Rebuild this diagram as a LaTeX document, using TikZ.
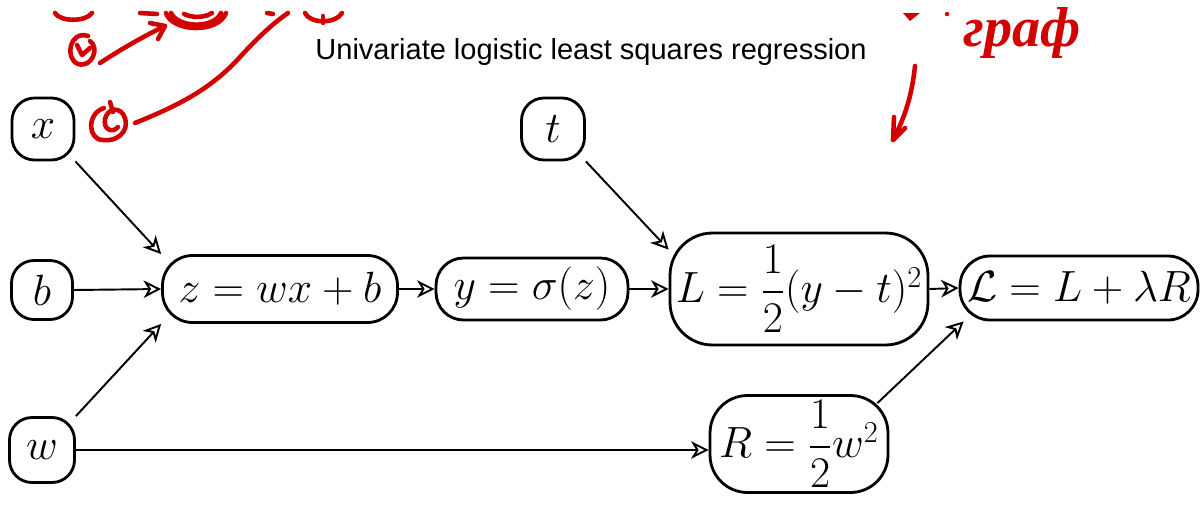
\documentclass[tikz,border=0pt]{standalone}
\usepackage{amsmath}
\usepackage{fontspec}
\setmainfont{Liberation Sans}
\newfontfamily\handfont{Liberation Serif}
\usetikzlibrary{arrows.meta,calc}
\definecolor{pen}{HTML}{D20000}
\tikzset{
  blk/.style={draw, line width=1.6pt, rounded corners=#1, inner sep=0pt,
    font=\fontsize{23.5}{28}\selectfont},
  blk/.default=0.45cm,
  arr/.style={line width=1.1pt, -{Stealth[open,length=10pt,width=10pt,inset=3pt,line width=1.1pt]}},
  scrib/.style={draw=pen, line width=2.6pt, line cap=round, line join=round},
  titletext/.style={font=\fontsize{16.5}{20}\selectfont, inner sep=0pt}
}
\begin{document}
\begin{tikzpicture}[x=0.02cm, y=-0.02cm]
\useasboundingbox (0,0) rectangle (1202,504);
\fill[white] (0,0) rectangle (1202,504);

% title
\node[titletext] (title) at (591,52) {Univariate logistic least squares regression};

% nodes
\node[blk, minimum width=1.24cm, minimum height=1.24cm] (x) at (43,129) {$x$};
\node[blk, minimum width=1.26cm, minimum height=1.24cm] (t) at (553,129) {$t$};
\node[blk, minimum width=1.22cm, minimum height=1.18cm] (b) at (42,290) {$b$};
\node[blk, minimum width=1.3cm, minimum height=1.3cm] (w) at (42,450) {$w$};
\node[blk=0.6cm, minimum width=4.7cm, minimum height=1.34cm] (z) at (280,289) {$z = wx + b$};
\node[blk=0.55cm, minimum width=3.84cm, minimum height=1.24cm] (y) at (532,289) {$y = \sigma(z)$};
\node[blk=0.85cm, minimum width=5.16cm, minimum height=2.24cm] (L) at (799,289) {$L = \dfrac{1}{2}(y - t)^2$};
\node[blk=0.6cm, minimum width=4.76cm, minimum height=1.28cm] (LL) at (1079,288) {$\mathcal{L} = L + \lambda R$};
\node[blk=0.75cm, minimum width=3.56cm, minimum height=1.94cm] (R) at (799,444) {$R = \dfrac{1}{2}w^2$};

% connectors
\draw[arr] (x.south east) -- (z.north west);
\draw[arr] (b.east) -- (z.west);
\draw[arr] (w.north east) -- (z.south west);
\draw[arr] (z.east) -- (y.west);
\draw[arr] (y.east) -- (L.west);
\draw[arr] (t.south east) -- ([yshift=-0.36cm]L.north west);
\draw[arr] (L.east) -- (LL.west);
\draw[arr] ([xshift=-0.24cm,yshift=-0.18cm]R.north east) -- ([xshift=0.1cm]LL.south west);
\draw[arr] (w.east) -- (w.east -| R.west);

% red handwritten annotations (cut off at the top edge, as in the source)
\path[scrib] (55,13) .. controls (60,22) and (86,22) .. (92,13);
\path[scrib] (140,13) -- (157,14);
\path[scrib] (166,13) .. controls (172,32) and (218,34) .. (226,13);
\path[scrib] (171,13) .. controls (178,28) and (214,29) .. (221,13);
\path[scrib] (184,14) .. controls (192,18) and (204,18) .. (212,13);
\path[scrib] (267,13) -- (273,14);
\path[scrib] (100,63) .. controls (120,50) and (142,37) .. (165,26);
\path[scrib] (150,23) -- (165,26) -- (158,39);
\path[scrib] (88,36) .. controls (70,30) and (64,58) .. (78,64) .. controls (92,68) and (100,48) .. (90,41);
\path[scrib] (77,45) -- (82,55) -- (90,48);
\path[scrib] (135,123) .. controls (180,105) and (212,88) .. (240,57) .. controls (260,35) and (275,22) .. (288,13);
\path[scrib] (305,13) .. controls (310,24) and (336,24) .. (342,13);
\path[scrib] (323,16) -- (323,23);
\path[scrib] (104,108) .. controls (86,114) and (88,140) .. (103,140) .. controls (122,142) and (131,126) .. (123,114) .. controls (117,106) and (107,110) .. (105,119) .. controls (103,129) and (112,134) .. (118,127);
\path[scrib] (110,102) -- (113,112);
\fill[pen] (903,13) -- (920,13) -- (910,21) -- cycle;
\fill[pen] (947,14) circle (2.2);
\path[scrib] (915,66) .. controls (912,95) and (905,117) .. (893,140);
\path[scrib] (894,117) -- (893,140) -- (905,128);
\node[text=pen, inner sep=0pt, font=\handfont\bfseries\itshape\fontsize{32}{36}\selectfont] (graf) at (1022,33) {граф};
\end{tikzpicture}
\end{document}
